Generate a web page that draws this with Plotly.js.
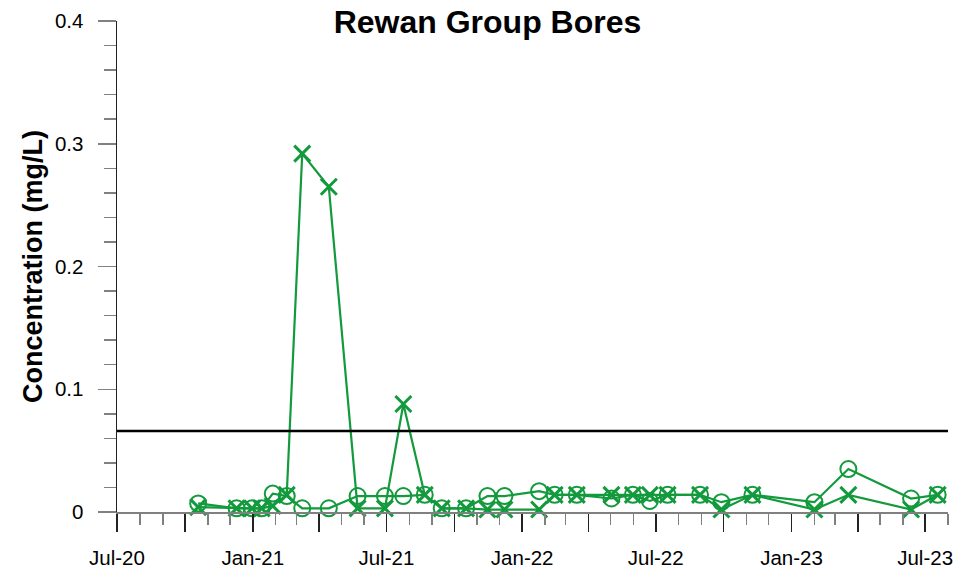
<!DOCTYPE html>
<html>
<head>
<meta charset="utf-8">
<script src="https://cdn.plot.ly/plotly-3.0.1.min.js"></script>
<style>
  html, body { margin: 0; padding: 0; background: #ffffff; }
  #chart { width: 975px; height: 576px; }
</style>
</head>
<body>
<div id="chart"></div>
<script>
// Sampling dates shared by both bores
const sampleDates = [
  '2020-10-19', '2020-12-10', '2020-12-31', '2021-01-13', '2021-01-28',
  '2021-02-16', '2021-03-09', '2021-04-14', '2021-05-23', '2021-06-29',
  '2021-07-24', '2021-08-22', '2021-09-14', '2021-10-17', '2021-11-15',
  '2021-12-08', '2022-01-24', '2022-02-14', '2022-03-16', '2022-05-02',
  '2022-05-31', '2022-06-23', '2022-07-17', '2022-08-30', '2022-09-28',
  '2022-11-09', '2023-02-01', '2023-03-19', '2023-06-12', '2023-07-18'
];

// Concentrations (mg/L), bore with circle markers
const boreCircle = [
  0.007, 0.003, 0.003, 0.003, 0.015,
  0.013, 0.003, 0.003, 0.013, 0.013,
  0.013, 0.014, 0.003, 0.003, 0.013,
  0.013, 0.017, 0.014, 0.014, 0.011,
  0.014, 0.009, 0.014, 0.014, 0.008,
  0.014, 0.008, 0.035, 0.011, 0.014
];

// Concentrations (mg/L), bore with cross markers
const boreCross = [
  0.004, 0.003, 0.003, 0.003, 0.005,
  0.014, 0.292, 0.265, 0.003, 0.003,
  0.088, 0.014, 0.003, 0.003, 0.002,
  0.002, 0.002, 0.014, 0.014, 0.014,
  0.014, 0.014, 0.014, 0.014, 0.002,
  0.014, 0.002, 0.014, 0.002, 0.014
];

// Guideline concentration (mg/L)
const guidelineValue = 0.066;

// Axis ticks: long ticks every quarter, labels every half year
const quarterTicks = [
  '2020-07-01', '2020-10-01', '2021-01-01', '2021-04-01', '2021-07-01',
  '2021-10-01', '2022-01-01', '2022-04-01', '2022-07-01', '2022-10-01',
  '2023-01-01', '2023-04-01', '2023-07-01'
];
const quarterLabels = [
  'Jul-20', '', 'Jan-21', '', 'Jul-21', '', 'Jan-22', '', 'Jul-22', '',
  'Jan-23', '', 'Jul-23'
];

const green = '#129a3c';
const font = 'Liberation Sans, Arial, sans-serif';

const traces = [
  {
    x: sampleDates, y: boreCircle, name: 'Bore 1',
    type: 'scatter', mode: 'lines+markers', cliponaxis: false,
    line: { color: green, width: 2.2 },
    marker: { symbol: 'circle-open', size: 16, color: green, line: { color: green, width: 2 } }
  },
  {
    x: sampleDates, y: boreCross, name: 'Bore 2',
    type: 'scatter', mode: 'lines+markers', cliponaxis: false,
    line: { color: green, width: 2.2 },
    marker: { symbol: 'x-thin-open', size: 16, color: green, line: { color: green, width: 3 } }
  }
];

const layout = {
  width: 975, height: 576,
  margin: { l: 117, r: 27, t: 21, b: 64 },
  paper_bgcolor: '#ffffff', plot_bgcolor: '#ffffff',
  showlegend: false,
  font: { family: font, color: '#000000' },
  title: {
    text: '<b>Rewan Group Bores</b>',
    font: { family: font, size: 32, color: '#000000' },
    x: 0.5, xanchor: 'center', y: 0.962, yanchor: 'middle'
  },
  xaxis: {
    type: 'date',
    range: ['2020-07-01', '2023-08-01'],
    showgrid: false, zeroline: false,
    showline: true, linecolor: '#808080', linewidth: 1.5,
    tickmode: 'array', tickvals: quarterTicks, ticktext: quarterLabels,
    ticks: 'outside', ticklen: 18, tickwidth: 1.5, tickcolor: '#222222',
    ticklabelstandoff: 9,
    tickfont: { family: font, size: 20.5, color: '#000000' },
    minor: { tickmode: 'linear', tick0: '2020-07-01', dtick: 'M1', ticks: 'outside', ticklen: 11, tickwidth: 1.5, tickcolor: '#808080', showgrid: false }
  },
  yaxis: {
    range: [0, 0.4],
    showgrid: false, zeroline: false,
    showline: true, linecolor: '#222222', linewidth: 1.5,
    tickmode: 'linear', tick0: 0, dtick: 0.1,
    ticks: 'outside', ticklen: 18, tickwidth: 1.5, tickcolor: '#808080',
    ticklabelstandoff: 10,
    tickfont: { family: font, size: 20.5, color: '#000000' },
    minor: { tickmode: 'linear', tick0: 0, dtick: 0.02, ticks: 'outside', ticklen: 12, tickwidth: 1.5, tickcolor: '#808080', showgrid: false },
    title: {
      text: '<b>Concentration (mg/L)</b>',
      font: { family: font, size: 27, color: '#000000' },
      standoff: 4
    }
  },
  shapes: [
    {
      type: 'line', xref: 'paper', yref: 'y',
      x0: 0, x1: 1, y0: guidelineValue, y1: guidelineValue,
      line: { color: '#000000', width: 2.5 }
    }
  ]
};

Plotly.newPlot('chart', traces, layout, { staticPlot: true, displayModeBar: false });
</script>
</body>
</html>
